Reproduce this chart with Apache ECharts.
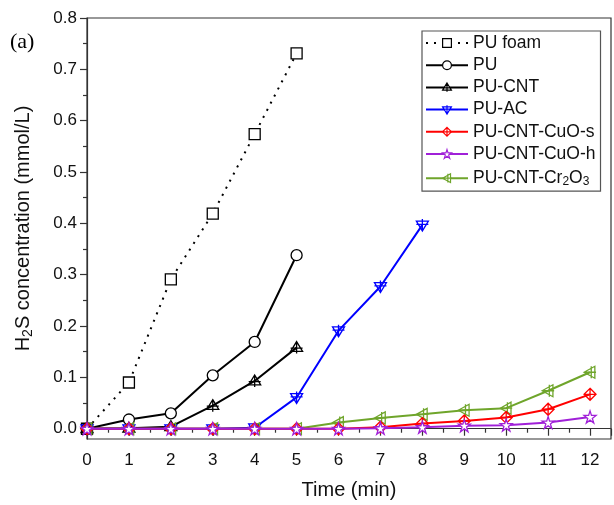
<!DOCTYPE html>
<html>
<head>
<meta charset="utf-8">
<script src="https://cdn.jsdelivr.net/npm/echarts@6/dist/echarts.min.js"></script>
<style>
html,body{margin:0;padding:0;background:#fff;}
#chart{width:614px;height:505px;}
</style>
</head>
<body>
<div id="chart"></div>
<script>
// ---- data ----
var times = [0, 1, 2, 3, 4, 5, 6, 7, 8, 9, 10, 11, 12];
var seriesNames = ['PU foam', 'PU', 'PU-CNT', 'PU-AC', 'PU-CNT-CuO-s', 'PU-CNT-CuO-h', 'PU-CNT-Cr2O3'];
var puFoam = [0, 0.090, 0.291, 0.419, 0.574, 0.731];
var pu = [0, 0.018, 0.030, 0.104, 0.169, 0.338];
var puCnt = [0, 0.001, 0.004, 0.045, 0.093, 0.158];
var puAc = [0, 0, 0, 0, 0.002, 0.061, 0.191, 0.277, 0.397];
var cuoS = [0, 0, 0, 0, 0, 0, 0, 0.003, 0.010, 0.015, 0.022, 0.038, 0.067];
var cuoH = [0, 0, 0, 0, 0, 0, 0, 0.001, 0.003, 0.006, 0.007, 0.012, 0.023];
var cr2o3 = [0, 0, 0, 0, 0, 0, 0.012, 0.021, 0.028, 0.036, 0.040, 0.074, 0.110];
var yMajorTicks = [0, 0.1, 0.2, 0.3, 0.4, 0.5, 0.6, 0.7, 0.8];
var yMinorTicks = [0.05, 0.15, 0.25, 0.35, 0.45, 0.55, 0.65, 0.75];

function pairs(vals) {
  return vals.map(function (v, i) { return [times[i], v]; });
}

var SYM = {
  square: 'rect',
  circle: 'circle',
  triUp: 'path://M5,0 L10,9 L0,9 Z M5,0 L5,11 M0,6 L10,6',
  triDown: 'path://M0,0 L10,0 L5,9 Z M5,-2 L5,9 M0,3 L10,3',
  diamond: 'path://M5,0 L10,5 L5,10 L0,5 Z M5,0 L5,10 M0,5 L10,5',
  star: 'path://M5,0 L6.2,3.6 L10,3.6 L6.9,5.9 L8.1,9.5 L5,7.3 L1.9,9.5 L3.1,5.9 L0,3.6 L3.8,3.6 Z',
  triLeft: 'path://M0,5 L9,0 L9,10 Z M0,5 L10,5 M6,0 L6,10'
};

var fills = {};
function mk(name, data, color, symbol, z, dashed, size, fill) {
  fills[name] = { fill: fill, color: color };
  return {
    name: name,
    type: 'line',
    data: pairs(data),
    symbol: symbol,
    symbolSize: size || 11,
    showSymbol: true,
    z: z,
    lineStyle: { color: color, width: 2, type: dashed ? [2, 6] : 'solid' },
    itemStyle: { color: fill, borderColor: color, borderWidth: 1.3 },
    emphasis: { disabled: true },
    animation: false
  };
}

var CLEAR = 'rgba(255,255,255,0)';
var series = [
  mk(seriesNames[0], puFoam, '#000000', SYM.square, 3, true, 11, '#fff'),
  mk(seriesNames[1], pu, '#000000', SYM.circle, 3, false, 11, '#fff'),
  mk(seriesNames[2], puCnt, '#000000', SYM.triUp, 3, false, 12, CLEAR),
  mk(seriesNames[3], puAc, '#0000ff', SYM.triDown, 3, false, 12, CLEAR),
  mk(seriesNames[4], cuoS, '#ff0000', SYM.diamond, 4, false, 12, CLEAR),
  mk(seriesNames[6], cr2o3, '#6fa52b', SYM.triLeft, 3, false, 12, CLEAR),
  mk(seriesNames[5], cuoH, '#a020d8', SYM.star, 5, false, 12, '#fff')
];

var legendData = seriesNames.map(function (n) {
  return {
    name: n,
    itemStyle: { color: '#fff', borderColor: fills[n].color, borderWidth: 1.2 },
    lineStyle: { color: fills[n].color, width: 2 }
  };
});

function legendFmt(name) {
  if (name === 'PU-CNT-Cr2O3') return 'PU-CNT-Cr{s|2}O{s|3}';
  return name;
}

var FONT = 'Liberation Sans, Arial, sans-serif';
var chart = echarts.init(document.getElementById('chart'), null, { renderer: 'canvas' });
chart.setOption({
  animation: false,
  backgroundColor: '#fff',
  textStyle: { fontFamily: FONT },
  grid: {
    left: 87, top: 18, right: -1, bottom: 65,
    show: true, borderColor: '#333', borderWidth: 1.2, backgroundColor: 'transparent'
  },
  graphic: [{
    type: 'text', left: 10, top: 31,
    style: { text: '(a)', font: '22px "Liberation Serif", "Times New Roman", serif', fill: '#000' }
  }],
  legend: {
    data: legendData,
    orient: 'vertical',
    left: 422, top: 31,
    padding: [3, 5, 4, 3],
    itemGap: 4.2,
    itemWidth: 42,
    itemHeight: 11,
    borderColor: '#555',
    borderWidth: 1.2,
    backgroundColor: '#fff',
    itemStyle: { color: '#fff', borderColor: 'inherit', borderWidth: 1.2 },
    formatter: legendFmt,
    textStyle: {
      fontSize: 17.5, color: '#111', fontFamily: FONT,
      lineHeight: 18,
      rich: {
        s: { fontSize: 12, verticalAlign: 'bottom', padding: [8, 0, 0, 0], lineHeight: 18, fontFamily: FONT }
      }
    },
    selectedMode: false
  },
  xAxis: {
    type: 'value',
    min: 0, max: 12.5, interval: 1,
    name: 'Time (min)',
    nameLocation: 'middle',
    nameGap: 41,
    nameTextStyle: { fontSize: 20, color: '#111' },
    axisLine: { show: true, lineStyle: { color: '#333', width: 1.2 } },
    axisTick: { show: true, inside: false, length: 7, lineStyle: { color: '#333', width: 1.2 } },
    minorTick: { show: true, splitNumber: 2, length: 4, lineStyle: { color: '#333', width: 1.2 } },
    splitLine: { show: false },
    minorSplitLine: { show: false },
    axisLabel: {
      fontSize: 17, color: '#111', margin: 13,
      formatter: function (v) { return Number.isInteger(v) ? String(v) : ''; }
    }
  },
  yAxis: [{
    type: 'value',
    min: -0.02, max: 0.8,
    name: 'H{s|2}S concentration (mmol/L)',
    nameLocation: 'middle',
    nameGap: 52,
    nameTextStyle: {
      fontSize: 20, color: '#111',
      rich: { s: { fontSize: 14, verticalAlign: 'bottom', padding: [9, 0, 0, 0] } }
    },
    axisLine: { show: true, lineStyle: { color: '#333', width: 1.2 } },
    axisTick: { show: true, length: 7, customValues: yMajorTicks, lineStyle: { color: '#333', width: 1.2 } },
    splitLine: { show: false },
    axisLabel: {
      fontSize: 17, color: '#111', margin: 10, customValues: yMajorTicks,
      formatter: function (v) { return v.toFixed(1); }
    }
  }, {
    type: 'value',
    min: -0.02, max: 0.8,
    position: 'left',
    axisLine: { show: false },
    axisTick: { show: true, length: 4, customValues: yMinorTicks, lineStyle: { color: '#333', width: 1.2 } },
    splitLine: { show: false },
    axisLabel: { show: false }
  }],
  series: series
});
</script>
</body>
</html>
